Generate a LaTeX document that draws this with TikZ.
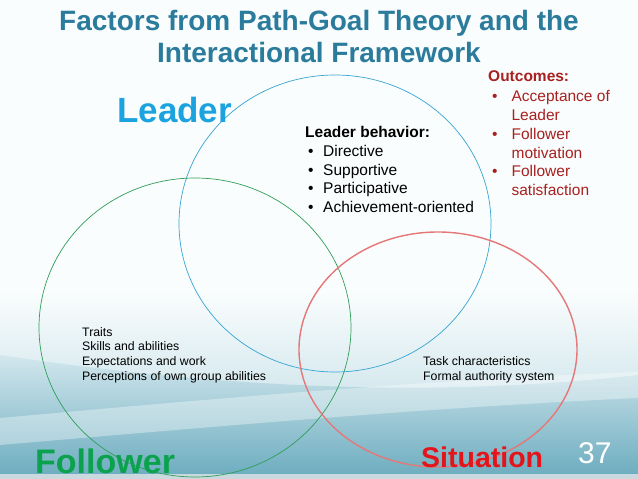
\documentclass[tikz,border=0pt]{standalone}
\usepackage{fontspec}
\setmainfont{Liberation Sans}
\usetikzlibrary{positioning,shapes.geometric}
\definecolor{vtitle}{HTML}{2B7B9C}
\definecolor{vblue}{HTML}{1BA3E0}
\definecolor{vgreen}{HTML}{0BA24E}
\definecolor{vred}{HTML}{E3151B}
\definecolor{vdark}{HTML}{A8201F}
\definecolor{ringblue}{HTML}{35A4D4}
\definecolor{ringgreen}{HTML}{2E9E58}
\definecolor{ringred}{HTML}{E57777}
\definecolor{bgwhite}{HTML}{FAFDFD}
\definecolor{bglight}{HTML}{D2E7ED}
\definecolor{bgteal}{HTML}{6AABBE}
\definecolor{bgstrip}{HTML}{C9D9DD}
\tikzset{
  ring/.style   ={ellipse, draw, inner sep=0pt},
  bigword/.style={font=\bfseries, inner sep=0pt, anchor=base west},
  bullets/.style={font=\fontsize{15.5}{18.8}\selectfont, inner sep=0pt, anchor=base west},
  smalllist/.style={font=\fontsize{12.3}{14.6}\selectfont, inner sep=0pt, anchor=base west, align=left},
}

\begin{document}
\begin{tikzpicture}[x=1pt,y=-1pt]
    \useasboundingbox (0,0) rectangle (638,479);
    % slide background
    \fill[bgwhite] (0,0) rectangle (638,479);
    \shade[top color=bgwhite,bottom color=bglight] (0,290) rectangle (638,400);
    \shade[top color=bglight,bottom color=bgteal] (0,355) .. controls (200,385) and (420,400) .. (638,375)
        -- (638,479) -- (0,479) -- cycle;
    \fill[white,opacity=.35] (0,418) .. controls (200,400) and (420,380) .. (638,372)
        -- (638,398) .. controls (420,408) and (200,428) .. (0,445) -- cycle;
    \fill[bgstrip] (0,474) rectangle (638,479);

    \node[ring,draw=ringblue,line width=.7pt,minimum width=312pt,minimum height=297pt] (leaderring) at (335,223.5) {};
    \node[ring,draw=ringgreen,line width=.7pt,minimum width=312pt,minimum height=299pt] (followerring) at (195,327.5) {};
    \node[ring,draw=ringred,line width=1.4pt,minimum width=278pt,minimum height=235pt] (situationring) at (438,349.5) {};

    \node[font=\fontsize{28}{32}\selectfont\bfseries,text=vtitle,align=center,inner sep=0pt,anchor=base] (title) at (319,62)
        {Factors from Path-Goal Theory and the\\Interactional Framework};

    \node[bigword,font=\fontsize{35}{35}\selectfont\bfseries,text=vblue] (leader) at (117,122) {Leader};
    \node[bigword,font=\fontsize{34}{34}\selectfont\bfseries,text=vgreen] (follower) at (35,473) {Follower};
    \node[bigword,font=\fontsize{28.5}{28.5}\selectfont\bfseries,text=vred] (situation) at (421,467) {Situation};
    \node[inner sep=0pt,anchor=base west,font=\fontsize{30}{30}\selectfont,text=white] (pagenum) at (578,463) {37};

    \node[bullets] (behavior) at (305,137.5) {\begin{tabular}[t]{@{\hspace{3pt}}l@{\hspace{9.6pt}}l@{}}
        \multicolumn{2}{@{}l@{}}{\textbf{Leader behavior:}}\\
        \textbullet & Directive\\
        \textbullet & Supportive\\
        \textbullet & Participative\\
        \textbullet & Achievement-oriented
      \end{tabular}};
    \node[bullets,text=vdark] (outcomes) at (488,81) {\begin{tabular}[t]{@{\hspace{4pt}}l@{\hspace{14pt}}l@{}}
        \multicolumn{2}{@{}l@{}}{\textbf{Outcomes:}}\\[2pt]
        \textbullet & Acceptance of\\
                    & Leader\\
        \textbullet & Follower\\
                    & motivation\\
        \textbullet & Follower\\
                    & satisfaction
      \end{tabular}};

    \node[smalllist] (traits) at (82,380) {Traits\\Skills and abilities\\Expectations and work\\Perceptions of own group abilities};
    \node[smalllist] (task) at (423,380) {Task characteristics\\Formal authority system};
\end{tikzpicture}
\end{document}
